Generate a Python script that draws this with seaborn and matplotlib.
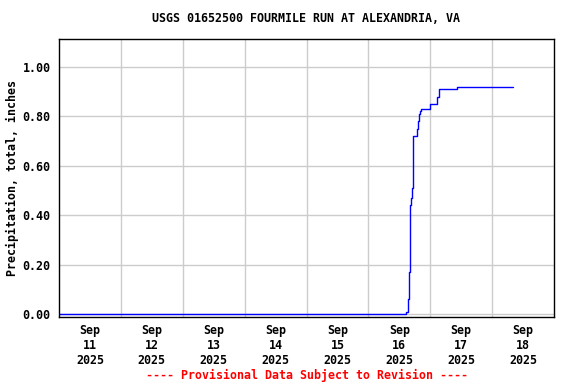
import pandas as pd
import seaborn as sns
import matplotlib.pyplot as plt
import matplotlib.dates as mdates
from matplotlib.ticker import FixedLocator

# cumulative precipitation (step data)
times = ["2025-09-11 00:00", "2025-09-16 14:45", "2025-09-16 15:30", "2025-09-16 15:45",
         "2025-09-16 16:15", "2025-09-16 16:30", "2025-09-16 17:00", "2025-09-16 17:15",
         "2025-09-16 19:00", "2025-09-16 19:15", "2025-09-16 19:45", "2025-09-16 20:00",
         "2025-09-16 20:30", "2025-09-17 00:00", "2025-09-17 02:45", "2025-09-17 03:15",
         "2025-09-17 10:15", "2025-09-18 08:00"]
precip = [0.00, 0.01, 0.06, 0.17, 0.44, 0.47, 0.51, 0.72, 0.75, 0.78, 0.81, 0.82,
          0.83, 0.85, 0.88, 0.91, 0.92, 0.92]
days = ["2025-09-11", "2025-09-12", "2025-09-13", "2025-09-14",
        "2025-09-15", "2025-09-16", "2025-09-17", "2025-09-18"]
yticks = [0.0, 0.2, 0.4, 0.6, 0.8, 1.0]

df = pd.DataFrame({"time": pd.to_datetime(times), "precip": precip})

sns.set_style("white")
plt.rcParams['font.family'] = ['DejaVu Sans Mono']
plt.rcParams['font.weight'] = 'bold'
for k in ['text.color', 'axes.labelcolor', 'xtick.color', 'ytick.color']:
    plt.rcParams[k] = 'black'
fs = 8.4

fig = plt.figure(figsize=(5.76, 3.84), dpi=100)
ax = fig.add_axes([59 / 576, 1 - 317 / 384, 495 / 576, 278 / 384])

sns.lineplot(data=df, x="time", y="precip", ax=ax, color="#0000ff", linewidth=1,
             drawstyle="steps-post", estimator=None, sort=False)

day_ts = pd.to_datetime(days)
noon = [mdates.date2num(d + pd.Timedelta(hours=12)) for d in day_ts]
midnight = [mdates.date2num(d) for d in day_ts] + [mdates.date2num(pd.Timestamp("2025-09-19"))]

ax.set_xlim(midnight[0], midnight[-1])
ax.set_ylim(-0.012, 1.113)
ax.xaxis.set_major_locator(FixedLocator(noon))
ax.xaxis.set_minor_locator(FixedLocator(midnight[1:-1]))
ax.set_xticklabels([d.strftime("%b\n%d\n%Y") for d in day_ts], fontsize=fs, fontweight='bold')
ax.set_yticks(yticks)
ax.set_yticklabels([f"{v:.2f}" for v in yticks], fontsize=fs, fontweight='bold')
ax.tick_params(which='both', length=0)
ax.tick_params(axis='x', pad=5)
ax.tick_params(axis='y', pad=6)

ax.grid(False)
ax.grid(True, which='minor', axis='x', color='#cccccc', linewidth=1)
ax.grid(True, which='major', axis='y', color='#cccccc', linewidth=1)
ax.set_axisbelow(True)
for s in ax.spines.values():
    s.set_color('black')
    s.set_linewidth(1)

ax.set_xlabel("")
ax.set_ylabel("Precipitation, total, inches", fontsize=fs, fontweight='bold', labelpad=2.5)

cx = (59 + 554) / 2 / 576
fig.text(cx, 1 - 19 / 384, "USGS 01652500 FOURMILE RUN AT ALEXANDRIA, VA",
         ha='center', va='center', fontsize=fs, fontweight='bold')
fig.text(cx, 1 - 375 / 384, "---- Provisional Data Subject to Revision ----",
         ha='center', va='center', fontsize=fs, fontweight='bold', color='red')

fig.savefig("out.png", dpi=100)
